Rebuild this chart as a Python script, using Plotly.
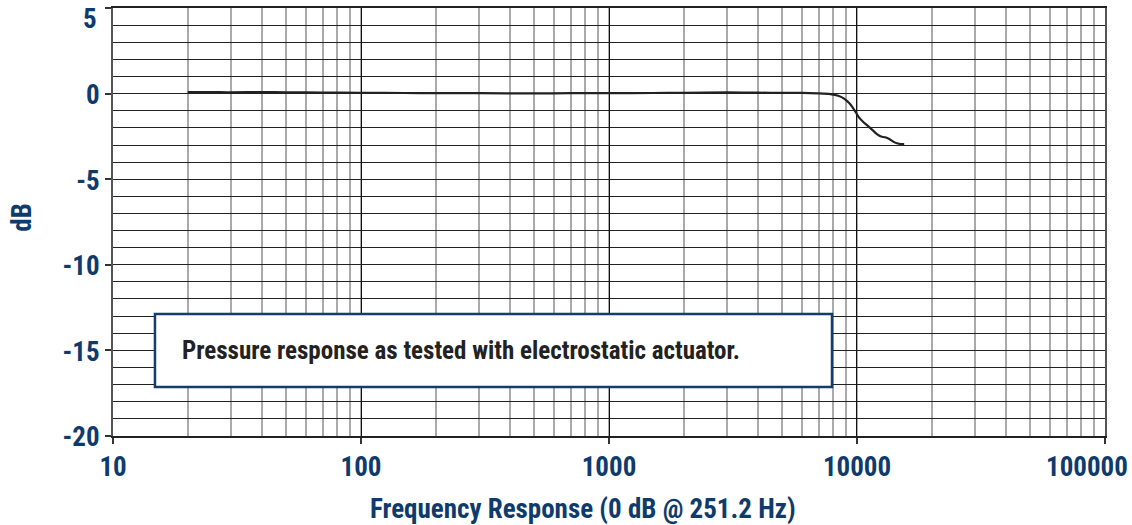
import plotly.graph_objects as go

freq_hz = [20, 25, 30, 40, 50, 70, 100, 150, 200, 300, 500, 700, 1000, 1500, 2000, 3000,
           4000, 5000, 6000, 7000, 7800, 8400, 8900, 9300, 9600, 9900, 10200, 10600,
           11000, 11500, 12000, 12500, 13000, 13500, 14000, 14500, 15000, 15500]
response_db = [0.1, 0.1, 0.08, 0.1, 0.08, 0.07, 0.05, 0.04, 0.03, 0.03, 0.02, 0.03, 0.03,
               0.04, 0.05, 0.08, 0.06, 0.05, 0.05, 0.02, -0.02, -0.12, -0.3, -0.55, -0.8,
               -1.1, -1.4, -1.65, -1.85, -2.1, -2.35, -2.5, -2.55, -2.65, -2.8, -2.9,
               -2.95, -2.95]

x_tick_vals = [10, 100, 1000, 10000, 100000]
x_tick_text = ["10", "100", "1000", "10000", "100000"]
y_tick_vals = [5, 0, -5, -10, -15, -20]
y_tick_text = ["5", "0", "-5", "-10", "-15", "-20"]

title_x = "Frequency Response (0 dB @ 251.2 Hz)"
title_y = "dB"
note = "Pressure response as tested with electrostatic actuator."

BLUE = "#0f3b6c"
FONT = "Liberation Sans Narrow, Arial Narrow, Roboto Condensed, Liberation Sans, Arial, sans-serif"
TICKFONT = dict(family=FONT, size=27, color=BLUE, weight="bold")

# edge labels (top "5" and right "100000") are nudged inward as in the original,
# so they are drawn as annotations; the axis shows the rest
x_axis_text = x_tick_text[:-1] + [""]
y_axis_text = [""] + y_tick_text[1:]

fig = go.Figure()
fig.add_trace(go.Scatter(x=freq_hz, y=response_db, mode="lines",
                         line=dict(color="#222222", width=2.2, shape="spline", smoothing=0.6),
                         showlegend=False, hoverinfo="skip"))

fig.update_layout(
    width=1132, height=525,
    margin=dict(l=113, r=27, t=8, b=89, autoexpand=False),
    paper_bgcolor="white", plot_bgcolor="white",
    font=dict(family=FONT, color=BLUE),
    xaxis=dict(
        type="log", range=[0.9999, 5.0001], automargin=False,
        tickvals=x_tick_vals, ticktext=x_axis_text,
        ticks="outside", ticklen=6, tickwidth=1.5, tickcolor="#333333",
        tickfont=TICKFONT,
        showgrid=True, gridcolor="#111111", gridwidth=1.3,
        minor=dict(dtick="D1", showgrid=True, gridcolor="#aaaaaa", gridwidth=1.8, ticks=""),
        showline=True, mirror=True, linecolor="#222222", linewidth=1.5,
        zeroline=False,
    ),
    yaxis=dict(
        range=[-20.01, 5.01], automargin=False,
        tickvals=y_tick_vals, ticktext=y_axis_text,
        ticks="outside", ticklen=6, tickwidth=1.5, tickcolor="#333333",
        tickfont=TICKFONT,
        ticklabelshift=1,
        showgrid=True, gridcolor="#222222", gridwidth=1.3,
        minor=dict(dtick=1, showgrid=True, gridcolor="#222222", gridwidth=1.3, ticks=""),
        showline=True, mirror=True, linecolor="#555555", linewidth=2,
        zeroline=False,
    ),
)

fig.add_annotation(xref="paper", yref="paper", x=-0.0141, y=0.974,
                   xanchor="right", yanchor="middle", text=y_tick_text[0], showarrow=False,
                   font=TICKFONT)
fig.add_annotation(xref="paper", yref="paper", x=0.9819, y=-0.0715,
                   xanchor="center", yanchor="middle", text=x_tick_text[-1], showarrow=False,
                   font=TICKFONT)

fig.add_annotation(xref="paper", yref="paper", x=0.4733, y=-0.1706,
                   xanchor="center", yanchor="middle", text=title_x, showarrow=False,
                   font=dict(family=FONT, size=27, color=BLUE, weight="bold"))
fig.add_annotation(xref="paper", yref="paper", x=-0.0917, y=0.51,
                   xanchor="center", yanchor="middle", text=title_y, showarrow=False,
                   textangle=-90,
                   font=dict(family=FONT, size=27, color=BLUE, weight="bold"))

fig.add_shape(type="rect", xref="paper", yref="paper",
              x0=0.0423, x1=0.7248, y0=0.1145, y1=0.285,
              line=dict(color="#143d6e", width=2.5), fillcolor="white", layer="above")
fig.add_annotation(xref="paper", yref="paper", x=0.0675, y=0.2, xanchor="left", yanchor="middle",
                   text=note, showarrow=False, align="left",
                   font=dict(family=FONT, size=25, color="#222222", weight="bold"))

fig.write_html("out.html", config={"displayModeBar": False},
               post_script="document.body.style.margin='0px';")
